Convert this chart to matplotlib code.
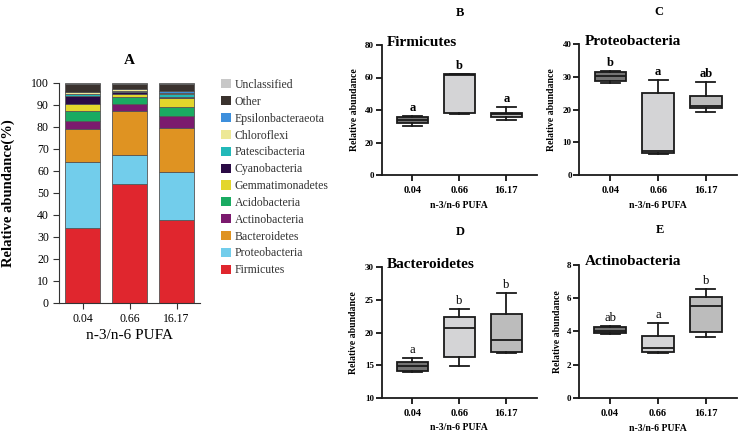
import numpy as np
import matplotlib
matplotlib.use('Agg')
import matplotlib.pyplot as plt
from matplotlib.patches import Patch

plt.rcParams['font.family'] = ['Liberation Serif', 'DejaVu Serif']

W, H = 745, 432

groups = ['0.04', '0.66', '16.17']

# --- panel A: phylum composition (%), listed bottom -> top of the stack ---
phyla = ['Firmicutes', 'Proteobacteria', 'Bacteroidetes', 'Actinobacteria',
         'Acidobacteria', 'Gemmatimonadetes', 'Cyanobacteria', 'Patescibacteria',
         'Chloroflexi', 'Epsilonbacteraeota', 'Other', 'Unclassified']
comp_004 = [34.0, 30.0, 14.8, 4.0, 4.5, 3.2, 3.3, 1.2, 0.6, 0.4, 3.5, 0.5]
comp_066 = [53.9, 13.4, 19.8, 3.4, 2.8, 1.5, 1.0, 0.6, 0.6, 0.3, 2.2, 0.5]
comp_1617 = [37.6, 21.9, 19.9, 5.4, 4.1, 4.0, 0.8, 1.2, 0.5, 1.0, 3.0, 0.6]
phylum_colors = ['#e0262e', '#72cdeb', '#df9322', '#7b1a6e', '#1aab62', '#e3d62c',
                 '#2a0a45', '#22b8b8', '#ede896', '#3d8fdc', '#3a322e', '#c8c8c8']

# --- panels B-E: box summaries (min, q1, median, q3, max) per group ---
firm_min = [30.2, 37.3, 33.8]
firm_q1 = [32.2, 38.2, 35.9]
firm_med = [33.8, 61.5, 37.3]
firm_q3 = [35.5, 62.0, 38.3]
firm_max = [36.3, 62.4, 41.7]
firm_sig = ['a', 'b', 'a']

prot_min = [28.0, 6.4, 19.2]
prot_q1 = [28.8, 6.9, 20.4]
prot_med = [30.3, 7.4, 21.1]
prot_q3 = [31.6, 25.2, 24.2]
prot_max = [31.8, 29.0, 28.5]
prot_sig = ['b', 'a', 'ab']

bact_min = [14.0, 14.8, 16.8]
bact_q1 = [14.1, 16.2, 17.0]
bact_med = [14.8, 20.7, 18.8]
bact_q3 = [15.4, 22.4, 22.9]
bact_max = [16.1, 23.6, 26.0]
bact_sig = ['a', 'b', 'b']

acti_min = [3.84, 2.71, 3.66]
acti_q1 = [3.92, 2.77, 3.98]
acti_med = [4.02, 2.99, 5.53]
acti_q3 = [4.28, 3.70, 6.03]
acti_max = [4.32, 4.48, 6.55]
acti_sig = ['ab', 'a', 'b']

box_colors = ['#747474', '#d4d4d6', '#bcbcbc']


def px_rect(left, top, right, bottom):
    return [left / W, 1 - bottom / H, (right - left) / W, (bottom - top) / H]


fig = plt.figure(figsize=(W / 100, H / 100), dpi=100)

# ---------------- panel A ----------------
axA = fig.add_axes(px_rect(59.3, 82.7, 200, 302.7))
x = np.arange(1, len(groups) + 1)
comps = np.array([comp_004, comp_066, comp_1617])
bottom = np.zeros(len(groups))
for i, name in enumerate(phyla):
    axA.bar(x, comps[:, i], bottom=bottom, width=0.75, color=phylum_colors[i],
            edgecolor='#555555', linewidth=0.6, label=name)
    bottom += comps[:, i]
axA.set_xlim(0.5, 3.5)
axA.set_ylim(0, 100)
axA.set_yticks(np.arange(0, 101, 10))
axA.set_xticks(x)
axA.set_xticklabels(groups)
axA.tick_params(axis='both', labelsize=8.5, length=4, width=0.8, color='#333333')
for s in ['top', 'right']:
    axA.spines[s].set_visible(False)
for s in ['left', 'bottom']:
    axA.spines[s].set_linewidth(0.8)
    axA.spines[s].set_color('#333333')
axA.set_xlabel('n-3/n-6 PUFA', fontsize=11, labelpad=3)
axA.set_ylabel('Relative abundance(%)', fontsize=10.5, fontweight='bold')
axA.yaxis.set_label_coords(-0.315, 0.5)

handles = [Patch(facecolor=c, edgecolor='none') for c in phylum_colors][::-1]
fig.legend(handles, phyla[::-1], loc='upper left',
           bbox_to_anchor=(221 / W, 1 - 79 / H), bbox_transform=fig.transFigure,
           frameon=False, fontsize=8.5, handlelength=0.82, handleheight=0.82,
           handletextpad=0.35, labelspacing=0.41, borderpad=0, borderaxespad=0,
           labelcolor='#333333')

fig.text(129 / W, 1 - 61 / H, 'A', ha='center', va='center', fontsize=11, fontweight='bold')


# ---------------- panels B-E ----------------
def box_panel(rect, title, mins, q1s, meds, q3s, maxs, sig, ticks, bold_sig, ycoord):
    ax = fig.add_axes(px_rect(*rect))
    stats = []
    for i in range(len(groups)):
        stats.append(dict(whislo=mins[i], q1=q1s[i], med=meds[i], q3=q3s[i],
                          whishi=maxs[i], fliers=[]))
    bp = ax.bxp(stats, positions=x, widths=0.66, capwidths=0.4, patch_artist=True,
                showfliers=False,
                boxprops=dict(edgecolor='#1a1a1a', linewidth=1.3),
                medianprops=dict(color='#1a1a1a', linewidth=1.3),
                whiskerprops=dict(color='#1a1a1a', linewidth=1.3),
                capprops=dict(color='#1a1a1a', linewidth=1.3))
    for patch, c in zip(bp['boxes'], box_colors):
        patch.set_facecolor(c)
    for i, s in enumerate(sig):
        ax.annotate(s, (x[i], maxs[i]), xytext=(0, 1.5), textcoords='offset points',
                    ha='center', va='bottom', fontsize=9,
                    fontweight='bold' if bold_sig else 'normal')
    ax.set_xlim(0.35, 3.65)
    ax.set_ylim(ticks[0], ticks[-1])
    ax.set_yticks(ticks)
    ax.set_xticks(x)
    ax.set_xticklabels(groups)
    ax.tick_params(axis='y', labelsize=6.5, length=4, width=1.2, pad=1.5)
    ax.tick_params(axis='x', labelsize=7.5, length=4, width=1.2, pad=4)
    for lab in ax.get_xticklabels() + ax.get_yticklabels():
        lab.set_fontweight('bold')
    for s in ['top', 'right']:
        ax.spines[s].set_visible(False)
    for s in ['left', 'bottom']:
        ax.spines[s].set_linewidth(1.3)
        ax.spines[s].set_color('#1a1a1a')
    ax.set_ylabel('Relative abundance', fontsize=7, fontweight='bold')
    ax.yaxis.set_label_coords(ycoord, 0.5)
    ax.set_xlabel('n-3/n-6 PUFA', fontsize=7, fontweight='bold', labelpad=4)
    ax.text(0.035, 1.02, title, transform=ax.transAxes, ha='left', va='center',
            fontsize=11, fontweight='bold')
    return ax


box_panel((381.7, 45, 537, 175), 'Firmicutes', firm_min, firm_q1, firm_med, firm_q3,
          firm_max, firm_sig, [0, 20, 40, 60, 80], True, -0.148)
box_panel((579.3, 44, 737, 175.3), 'Proteobacteria', prot_min, prot_q1, prot_med, prot_q3,
          prot_max, prot_sig, [0, 10, 20, 30, 40], True, -0.148)
box_panel((381.7, 267.3, 537, 397.7), 'Bacteroidetes', bact_min, bact_q1, bact_med, bact_q3,
          bact_max, bact_sig, [10, 15, 20, 25, 30], False, -0.151)
box_panel((579, 264.5, 737, 398.3), 'Actinobacteria', acti_min, acti_q1, acti_med, acti_q3,
          acti_max, acti_sig, [0, 2, 4, 6, 8], False, -0.11)

for letter, px, py in [('B', 460, 13), ('C', 659, 12), ('D', 460, 232), ('E', 660, 230)]:
    fig.text(px / W, 1 - py / H, letter, ha='center', va='center', fontsize=9, fontweight='bold')

fig.savefig('out.png', dpi=100)
